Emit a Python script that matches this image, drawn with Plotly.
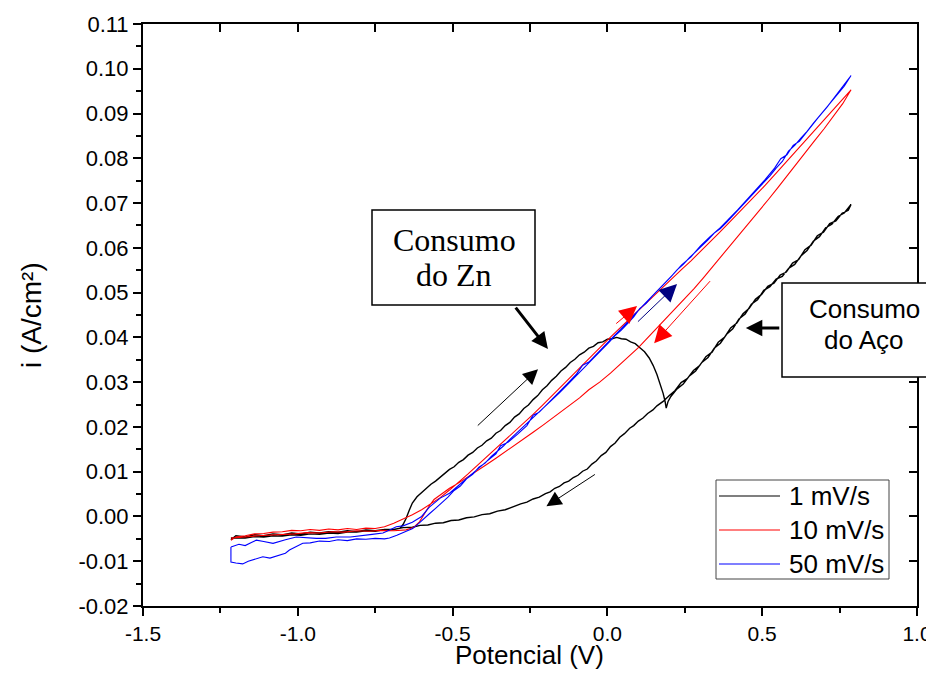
import plotly.graph_objects as go

# ---------------- data ----------------
series_names = ["1 mV/s", "10 mV/s", "50 mV/s"]
series_colors = ["#000000", "#ff0000", "#0000ff"]

# (potential V, current A/cm2) pairs, forward scan then reverse scan
fwd_1 = [(-1.216, -0.0052), (-1.200, -0.0043), (-1.170, -0.0046), (-1.140, -0.0041), (-1.110, -0.0043),
         (-1.080, -0.0039), (-1.050, -0.0041), (-1.020, -0.0037), (-0.990, -0.0039), (-0.960, -0.0035),
         (-0.930, -0.0037), (-0.900, -0.0034), (-0.870, -0.0035), (-0.840, -0.0032), (-0.810, -0.0034),
         (-0.780, -0.0030), (-0.750, -0.0032), (-0.720, -0.0029), (-0.690, -0.0029), (-0.670, -0.0026),
         (-0.660, -0.0018), (-0.650, -0.0004), (-0.640, 0.0014), (-0.630, 0.0030), (-0.615, 0.0044),
         (-0.600, 0.0054), (-0.585, 0.0063), (-0.570, 0.0072), (-0.555, 0.0079), (-0.540, 0.0088),
         (-0.525, 0.0095), (-0.510, 0.0105), (-0.495, 0.0111), (-0.480, 0.0121), (-0.465, 0.0127),
         (-0.450, 0.0137), (-0.435, 0.0143), (-0.420, 0.0153), (-0.405, 0.0159), (-0.390, 0.0169),
         (-0.375, 0.0175), (-0.360, 0.0186), (-0.345, 0.0192), (-0.330, 0.0203), (-0.315, 0.0210),
         (-0.300, 0.0222), (-0.285, 0.0229), (-0.270, 0.0241), (-0.255, 0.0249), (-0.240, 0.0261),
         (-0.225, 0.0270), (-0.210, 0.0283), (-0.195, 0.0292), (-0.180, 0.0304), (-0.165, 0.0313),
         (-0.150, 0.0325), (-0.135, 0.0333), (-0.120, 0.0344), (-0.105, 0.0351), (-0.090, 0.0361),
         (-0.075, 0.0367), (-0.060, 0.0376), (-0.045, 0.0380), (-0.030, 0.0388), (-0.015, 0.0390),
         (0.000, 0.0396), (0.015, 0.0397), (0.030, 0.0400), (0.045, 0.0397), (0.060, 0.0396),
         (0.075, 0.0390), (0.090, 0.0386), (0.105, 0.0377), (0.120, 0.0368), (0.135, 0.0354),
         (0.148, 0.0337), (0.160, 0.0317), (0.170, 0.0298), (0.180, 0.0275), (0.186, 0.0258),
         (0.190, 0.0242), (0.196, 0.0257), (0.205, 0.0268), (0.225, 0.0285), (0.245, 0.0296),
         (0.265, 0.0314), (0.285, 0.0325), (0.305, 0.0344), (0.325, 0.0355), (0.345, 0.0376),
         (0.365, 0.0387), (0.385, 0.0407), (0.405, 0.0419), (0.425, 0.0441), (0.445, 0.0452),
         (0.465, 0.0474), (0.485, 0.0484), (0.505, 0.0505), (0.525, 0.0513), (0.545, 0.0530),
         (0.565, 0.0536), (0.585, 0.0554), (0.605, 0.0563), (0.625, 0.0582), (0.645, 0.0594),
         (0.665, 0.0615), (0.685, 0.0625), (0.705, 0.0645), (0.725, 0.0653), (0.745, 0.0670),
         (0.765, 0.0678), (0.787, 0.0697)]
rev_1 = [(0.778, 0.0684), (0.758, 0.0677), (0.738, 0.0660), (0.718, 0.0654), (0.698, 0.0635),
         (0.678, 0.0627), (0.658, 0.0606), (0.638, 0.0596), (0.618, 0.0574), (0.598, 0.0566),
         (0.578, 0.0546), (0.558, 0.0539), (0.538, 0.0521), (0.518, 0.0514), (0.498, 0.0496),
         (0.478, 0.0485), (0.458, 0.0465), (0.438, 0.0453), (0.418, 0.0432), (0.398, 0.0421),
         (0.378, 0.0400), (0.358, 0.0389), (0.338, 0.0367), (0.318, 0.0357), (0.298, 0.0337),
         (0.278, 0.0326), (0.258, 0.0308), (0.238, 0.0299), (0.218, 0.0281), (0.200, 0.0270),
         (0.180, 0.0257), (0.160, 0.0247), (0.147, 0.0238), (0.130, 0.0230), (0.115, 0.0220),
         (0.100, 0.0213), (0.085, 0.0203), (0.072, 0.0197), (0.055, 0.0185), (0.040, 0.0177),
         (0.025, 0.0164), (0.010, 0.0156), (-0.005, 0.0143), (-0.020, 0.0136), (-0.036, 0.0124),
         (-0.050, 0.0117), (-0.065, 0.0106), (-0.080, 0.0101), (-0.095, 0.0092), (-0.110, 0.0087),
         (-0.125, 0.0079), (-0.140, 0.0075), (-0.155, 0.0067), (-0.170, 0.0063), (-0.185, 0.0055),
         (-0.200, 0.0051), (-0.220, 0.0043), (-0.240, 0.0039), (-0.260, 0.0032), (-0.280, 0.0028),
         (-0.305, 0.0021), (-0.330, 0.0015), (-0.355, 0.0012), (-0.380, 0.0006), (-0.405, 0.0004),
         (-0.430, -0.0001), (-0.455, -0.0003), (-0.480, -0.0008), (-0.505, -0.0009), (-0.530, -0.0014),
         (-0.555, -0.0015), (-0.580, -0.0019), (-0.605, -0.0020), (-0.630, -0.0024), (-0.660, -0.0025),
         (-0.690, -0.0029), (-0.720, -0.0029), (-0.750, -0.0033), (-0.780, -0.0032), (-0.810, -0.0035),
         (-0.840, -0.0035), (-0.870, -0.0038), (-0.900, -0.0037), (-0.930, -0.0040), (-0.960, -0.0039),
         (-0.990, -0.0042), (-1.020, -0.0041), (-1.050, -0.0044), (-1.080, -0.0043), (-1.110, -0.0046),
         (-1.140, -0.0045), (-1.170, -0.0048), (-1.216, -0.0048)]

fwd_10 = [(-1.216, -0.0053), (-1.200, -0.0046), (-1.170, -0.0043), (-1.140, -0.0039), (-1.110, -0.0038),
          (-1.080, -0.0035), (-1.050, -0.0034), (-1.020, -0.0031), (-0.990, -0.0032), (-0.960, -0.0029),
          (-0.930, -0.0031), (-0.900, -0.0028), (-0.870, -0.0030), (-0.840, -0.0027), (-0.810, -0.0029),
          (-0.780, -0.0026), (-0.750, -0.0027), (-0.720, -0.0023), (-0.690, -0.0015), (-0.660, -0.0006),
          (-0.630, 0.0004), (-0.600, 0.0015), (-0.570, 0.0029), (-0.540, 0.0042), (-0.510, 0.0059),
          (-0.480, 0.0076), (-0.450, 0.0095), (-0.420, 0.0114), (-0.390, 0.0133), (-0.360, 0.0151),
          (-0.330, 0.0170), (-0.300, 0.0188), (-0.270, 0.0208), (-0.240, 0.0228), (-0.210, 0.0248),
          (-0.180, 0.0269), (-0.150, 0.0290), (-0.120, 0.0312), (-0.090, 0.0333), (-0.060, 0.0354),
          (-0.030, 0.0374), (0.000, 0.0394), (0.030, 0.0414), (0.060, 0.0434), (0.090, 0.0454),
          (0.120, 0.0474), (0.150, 0.0494), (0.180, 0.0514), (0.210, 0.0533), (0.240, 0.0552),
          (0.270, 0.0571), (0.300, 0.0591), (0.330, 0.0612), (0.360, 0.0633), (0.390, 0.0654),
          (0.420, 0.0675), (0.450, 0.0697), (0.480, 0.0718), (0.510, 0.0740), (0.540, 0.0763),
          (0.570, 0.0786), (0.600, 0.0809), (0.630, 0.0833), (0.660, 0.0856), (0.690, 0.0879),
          (0.720, 0.0902), (0.750, 0.0925), (0.787, 0.0953)]
rev_10 = [(0.760, 0.0922), (0.730, 0.0893), (0.700, 0.0866), (0.670, 0.0840), (0.640, 0.0813),
          (0.610, 0.0786), (0.580, 0.0760), (0.550, 0.0734), (0.520, 0.0708), (0.490, 0.0683),
          (0.460, 0.0657), (0.430, 0.0632), (0.400, 0.0606), (0.370, 0.0582), (0.340, 0.0557),
          (0.310, 0.0533), (0.280, 0.0509), (0.250, 0.0487), (0.220, 0.0465), (0.190, 0.0443),
          (0.160, 0.0421), (0.130, 0.0400), (0.100, 0.0377), (0.070, 0.0358), (0.040, 0.0338),
          (0.010, 0.0320), (-0.025, 0.0300), (-0.060, 0.0283), (-0.090, 0.0265), (-0.120, 0.0249),
          (-0.150, 0.0233), (-0.180, 0.0218), (-0.210, 0.0203), (-0.240, 0.0188), (-0.270, 0.0173),
          (-0.300, 0.0158), (-0.330, 0.0144), (-0.360, 0.0130), (-0.390, 0.0116), (-0.420, 0.0102),
          (-0.450, 0.0088), (-0.480, 0.0075), (-0.510, 0.0063), (-0.540, 0.0049), (-0.560, 0.0038),
          (-0.575, 0.0024), (-0.590, 0.0008), (-0.607, -0.0012), (-0.625, -0.0024), (-0.650, -0.0030),
          (-0.690, -0.0032), (-0.730, -0.0031), (-0.770, -0.0033), (-0.810, -0.0032), (-0.850, -0.0035),
          (-0.890, -0.0034), (-0.930, -0.0037), (-0.970, -0.0036), (-1.010, -0.0039), (-1.050, -0.0040),
          (-1.090, -0.0042), (-1.130, -0.0043), (-1.170, -0.0046), (-1.216, -0.0048)]

fwd_50 = [(-1.216, -0.0068), (-1.216, -0.0102), (-1.200, -0.0104), (-1.178, -0.0106), (-1.160, -0.0100),
          (-1.140, -0.0095), (-1.113, -0.0090), (-1.090, -0.0093), (-1.060, -0.0086), (-1.040, -0.0082),
          (-1.027, -0.0075), (-1.005, -0.0068), (-0.984, -0.0060), (-0.960, -0.0059), (-0.930, -0.0055),
          (-0.898, -0.0056), (-0.870, -0.0052), (-0.840, -0.0054), (-0.810, -0.0050), (-0.780, -0.0051),
          (-0.750, -0.0049), (-0.720, -0.0050), (-0.704, -0.0048), (-0.680, -0.0042), (-0.655, -0.0034),
          (-0.629, -0.0027), (-0.610, -0.0016), (-0.596, -0.0008), (-0.575, 0.0006), (-0.555, 0.0018),
          (-0.535, 0.0030), (-0.515, 0.0043), (-0.495, 0.0058), (-0.475, 0.0068), (-0.455, 0.0084),
          (-0.435, 0.0094), (-0.415, 0.0110), (-0.395, 0.0119), (-0.375, 0.0134), (-0.355, 0.0145),
          (-0.335, 0.0158), (-0.315, 0.0172), (-0.295, 0.0185), (-0.275, 0.0197), (-0.255, 0.0209),
          (-0.235, 0.0222), (-0.215, 0.0236), (-0.195, 0.0250), (-0.175, 0.0263), (-0.155, 0.0276),
          (-0.135, 0.0290), (-0.115, 0.0304), (-0.095, 0.0318), (-0.075, 0.0331), (-0.055, 0.0345),
          (-0.035, 0.0360), (-0.015, 0.0374), (0.005, 0.0389), (0.025, 0.0404), (0.045, 0.0416),
          (0.065, 0.0431), (0.085, 0.0446), (0.105, 0.0465), (0.125, 0.0476), (0.145, 0.0492),
          (0.165, 0.0506), (0.185, 0.0520), (0.205, 0.0535), (0.225, 0.0551), (0.245, 0.0563),
          (0.265, 0.0578), (0.285, 0.0591), (0.305, 0.0606), (0.325, 0.0618), (0.345, 0.0633),
          (0.365, 0.0643), (0.385, 0.0657), (0.405, 0.0672), (0.425, 0.0686), (0.445, 0.0700),
          (0.465, 0.0715), (0.485, 0.0730), (0.505, 0.0746), (0.525, 0.0761), (0.545, 0.0778),
          (0.565, 0.0793), (0.585, 0.0816), (0.605, 0.0829), (0.625, 0.0845), (0.645, 0.0860),
          (0.665, 0.0878), (0.685, 0.0895), (0.705, 0.0912), (0.725, 0.0928), (0.745, 0.0945),
          (0.765, 0.0961), (0.787, 0.0985)]
rev_50 = [(0.770, 0.0969), (0.740, 0.0943), (0.710, 0.0915), (0.680, 0.0890), (0.650, 0.0864),
          (0.620, 0.0838), (0.600, 0.0829), (0.580, 0.0808), (0.560, 0.0799), (0.540, 0.0778),
          (0.510, 0.0753), (0.480, 0.0730), (0.450, 0.0706), (0.420, 0.0684), (0.390, 0.0663),
          (0.360, 0.0642), (0.330, 0.0624), (0.300, 0.0604), (0.270, 0.0580), (0.240, 0.0562),
          (0.210, 0.0539), (0.180, 0.0518), (0.150, 0.0497), (0.120, 0.0476), (0.090, 0.0453),
          (0.060, 0.0431), (0.030, 0.0410), (0.000, 0.0388), (-0.030, 0.0367), (-0.060, 0.0345),
          (-0.080, 0.0338), (-0.100, 0.0318), (-0.130, 0.0296), (-0.160, 0.0275), (-0.190, 0.0254),
          (-0.220, 0.0233), (-0.240, 0.0226), (-0.260, 0.0203), (-0.290, 0.0184), (-0.320, 0.0166),
          (-0.345, 0.0158), (-0.360, 0.0140), (-0.390, 0.0123), (-0.420, 0.0105), (-0.450, 0.0087),
          (-0.480, 0.0070), (-0.510, 0.0052), (-0.540, 0.0041), (-0.575, 0.0021), (-0.600, 0.0000),
          (-0.630, -0.0013), (-0.660, -0.0021), (-0.682, -0.0023), (-0.705, -0.0031), (-0.725, -0.0037),
          (-0.760, -0.0040), (-0.790, -0.0042), (-0.830, -0.0046), (-0.876, -0.0046), (-0.910, -0.0049),
          (-0.940, -0.0049), (-0.970, -0.0047), (-1.005, -0.0046), (-1.040, -0.0052), (-1.080, -0.0060),
          (-1.110, -0.0056), (-1.134, -0.0053), (-1.150, -0.0058), (-1.170, -0.0065), (-1.190, -0.0062),
          (-1.216, -0.0068)]

x_ticks = [-1.5, -1.0, -0.5, 0.0, 0.5, 1.0]
x_ticktext = ["-1.5", "-1.0", "-0.5", "0.0", "0.5", "1.0"]
y_ticks = [-0.02, -0.01, 0.0, 0.01, 0.02, 0.03, 0.04, 0.05, 0.06, 0.07, 0.08, 0.09, 0.10, 0.11]
y_ticktext = ["-0.02", "-0.01", "0.00", "0.01", "0.02", "0.03", "0.04", "0.05", "0.06",
              "0.07", "0.08", "0.09", "0.10", "0.11"]

x_title = "Potencial (V)"
y_title = "i (A/cm²)"
zn_label = ["Consumo", "do Zn"]
aco_label = ["Consumo", "do Aço"]

# ---------------- figure ----------------
PAGE_OFF = 8                      # default body margin of the html page
W, H = 926, 683
ML, MR, MT, MB = 135, 17, 16, 85
SANS = "Liberation Sans, Arial, sans-serif"
SERIF = "Liberation Serif, Times New Roman, serif"


def px_to_paper(px, py):
    fx, fy = px - PAGE_OFF, py - PAGE_OFF
    return (fx - ML) / (W - ML - MR), (H - MB - fy) / (H - MT - MB)


fig = go.Figure()
for fwd, rev, name, col, lw in zip([fwd_1, fwd_10, fwd_50], [rev_1, rev_10, rev_50],
                                   series_names, series_colors, [1.4, 1.1, 1.1]):
    pts = fwd + rev
    fig.add_trace(go.Scatter(x=[p[0] for p in pts], y=[p[1] for p in pts], mode="lines",
                             name=name, line=dict(color=col, width=lw), showlegend=False))

# helper trace so that the mirrored (top / right) axes with inward ticks are drawn
fig.add_trace(go.Scatter(x=[None], y=[None], xaxis="x2", yaxis="y2", showlegend=False,
                         hoverinfo="skip"))

axis_common = dict(showline=True, linewidth=2, linecolor="black", showgrid=False,
                   zeroline=False, tickcolor="black", tickwidth=2, automargin=False)

fig.update_layout(
    template="none",
    width=W, height=H, autosize=False,
    margin=dict(l=ML, r=MR, t=MT, b=MB, pad=0, autoexpand=False),
    paper_bgcolor="white", plot_bgcolor="white",
    showlegend=False,
    font=dict(family=SANS, color="black"),
    xaxis=dict(range=[-1.5, 1.0], tickmode="array", tickvals=x_ticks, ticktext=x_ticktext,
               ticks="outside", ticklen=8,
               minor=dict(dtick=0.25, tick0=-1.5, ticks="outside", ticklen=5, tickwidth=2,
                          tickcolor="black"),
               tickfont=dict(size=21, family=SANS), **axis_common),
    yaxis=dict(range=[-0.02, 0.11], tickmode="array", tickvals=y_ticks, ticktext=y_ticktext,
               ticks="outside", ticklen=8,
               minor=dict(dtick=0.005, tick0=0, ticks="outside", ticklen=5, tickwidth=2,
                          tickcolor="black"),
               tickfont=dict(size=22, family=SANS), **axis_common),
    xaxis2=dict(overlaying="x", side="top", range=[-1.5, 1.0], tickmode="linear", dtick=0.25,
                tick0=-1.5, ticks="inside", ticklen=8, showticklabels=False, **axis_common),
    yaxis2=dict(overlaying="y", side="right", range=[-0.02, 0.11], tickmode="linear", dtick=0.01,
                tick0=0, ticks="inside", ticklen=8, showticklabels=False, **axis_common),
)

shapes = []
annotations = []

# axis titles
tx, ty = px_to_paper(529, 655)
annotations.append(dict(xref="paper", yref="paper", x=tx, y=ty, text=x_title, showarrow=False,
                        xanchor="center", yanchor="middle",
                        font=dict(family=SANS, size=26, color="black")))
tx, ty = px_to_paper(31, 315)
annotations.append(dict(xref="paper", yref="paper", x=tx, y=ty, text=y_title, showarrow=False,
                        xanchor="center", yanchor="middle", textangle=-90,
                        font=dict(family=SANS, size=28, color="black")))

# "Consumo do Zn" box
x0, y1 = px_to_paper(372, 210)
x1, y0 = px_to_paper(535, 305)
shapes.append(dict(type="rect", xref="paper", yref="paper", x0=x0, x1=x1, y0=y0, y1=y1,
                   line=dict(color="black", width=1.5), fillcolor="white", layer="above"))
for txt, py in zip(zn_label, [240, 275]):
    xp, yp = px_to_paper(454, py)
    annotations.append(dict(xref="paper", yref="paper", x=xp, y=yp, text=txt, showarrow=False,
                            xanchor="center", yanchor="middle",
                            font=dict(family=SERIF, size=32, color="black")))

# "Consumo do Aço" box (runs past the right edge)
x0, y1 = px_to_paper(782, 283)
x1, y0 = px_to_paper(950, 377)
shapes.append(dict(type="rect", xref="paper", yref="paper", x0=x0, x1=x1, y0=y0, y1=y1,
                   line=dict(color="black", width=1.5), fillcolor="white", layer="above"))
for txt, py in zip(aco_label, [309, 340]):
    xp, yp = px_to_paper(864, py)
    annotations.append(dict(xref="paper", yref="paper", x=xp, y=yp, text=txt, showarrow=False,
                            xanchor="center", yanchor="middle",
                            font=dict(family=SANS, size=26, color="black")))

# arrows (data coordinates: head x,y ; tail ax,ay)
arrows = [
    dict(x=-0.192, y=0.0374, ax=-0.300, ay=0.0470, color="black", w=3, s=1.1),    # Zn box
    dict(x=0.447, y=0.0421, ax=0.560, ay=0.0421, color="black", w=3, s=1.1),      # Aco box
    dict(x=-0.224, y=0.0329, ax=-0.4235, ay=0.0200, color="black", w=1, s=3),     # 1 mV fwd
    dict(x=-0.197, y=0.0023, ax=-0.0356, ay=0.0096, color="black", w=1, s=3),     # 1 mV rev
    dict(x=0.0957, y=0.0470, ax=0.0236, ay=0.0428, color="#ff0000", w=1, s=3.5),  # 10 fwd
    dict(x=0.151, y=0.0387, ax=0.336, ay=0.0529, color="#ff0000", w=1, s=3.5),    # 10 rev
    dict(x=0.225, y=0.0519, ax=0.0938, ay=0.0432, color="#000080", w=1, s=3.5),   # 50 fwd
]
for a in arrows:
    annotations.append(dict(x=a["x"], y=a["y"], ax=a["ax"], ay=a["ay"], xref="x", yref="y",
                            axref="x", ayref="y", text="", showarrow=True,
                            arrowhead=2, arrowsize=a["s"], arrowwidth=a["w"],
                            arrowcolor=a["color"]))

# legend drawn by hand (box, sample lines, names)
x0, y1 = px_to_paper(716, 480)
x1, y0 = px_to_paper(889, 579)
shapes.append(dict(type="rect", xref="paper", yref="paper", x0=x0, x1=x1, y0=y0, y1=y1,
                   line=dict(color="#444444", width=1), fillcolor="white", layer="above"))
for name, col, py in zip(series_names, series_colors, [496, 530, 564]):
    lx0, ly = px_to_paper(719, py)
    lx1, _ = px_to_paper(780, py)
    shapes.append(dict(type="line", xref="paper", yref="paper", x0=lx0, x1=lx1, y0=ly, y1=ly,
                       line=dict(color=col, width=1.2), layer="above"))
    tx, ty = px_to_paper(787, py)
    annotations.append(dict(xref="paper", yref="paper", x=tx, y=ty, text=name, showarrow=False,
                            xanchor="left", yanchor="middle",
                            font=dict(family=SANS, size=26, color="black")))

fig.update_layout(shapes=shapes, annotations=annotations)
fig.write_html("out.html")
